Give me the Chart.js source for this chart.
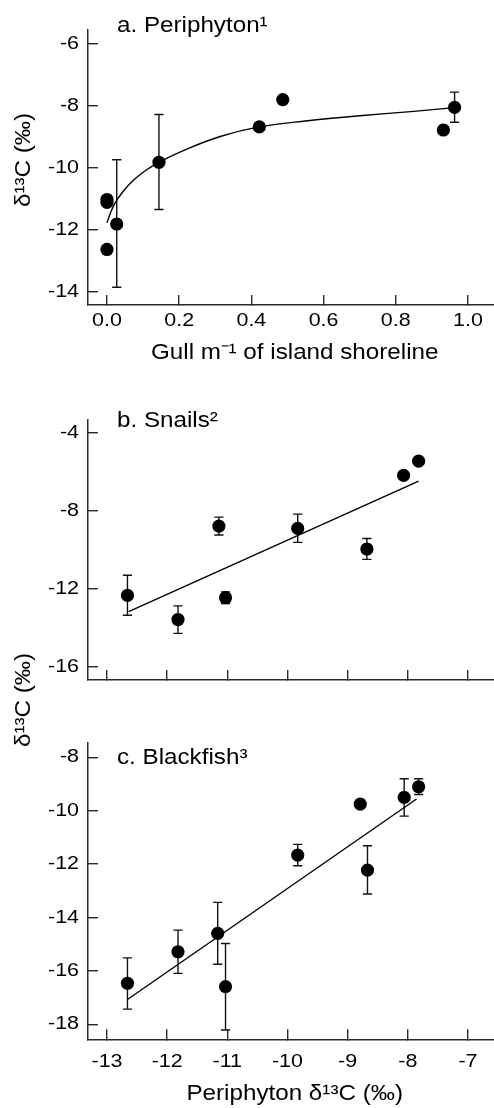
<!DOCTYPE html>
<html><head><meta charset="utf-8">
<script src="https://cdn.jsdelivr.net/npm/chart.js@4/dist/chart.umd.min.js"></script>
<style>
html,body{margin:0;padding:0;background:#fff;overflow:hidden;width:494px;height:1108px;position:relative;}
canvas{position:absolute;left:0;}
</style></head><body>
<canvas id="ca" width="508" height="375" style="top:0px;width:508px;height:375px"></canvas>
<canvas id="cb" width="508" height="320" style="top:390px;width:508px;height:320px"></canvas>
<canvas id="cc" width="508" height="468" style="top:640px;width:508px;height:468px"></canvas>
<script>
// ---------- data ----------
// Panel a: periphyton d13C vs gull density
const gullX      = [0.0, 0.0, 0.0, 0.027, 0.144, 0.422, 0.487, 0.932, 0.963];
const periY      = [-11.03, -11.12, -12.64, -11.82, -9.83, -8.69, -7.81, -8.79, -8.06];
const periErrLo  = [null, null, null, -13.86, -11.35, null, null, null, -8.54];
const periErrHi  = [null, null, null, -9.75, -8.29, null, null, null, -7.57];
const periFitX   = [0.000, 0.010, 0.021, 0.044, 0.076, 0.110, 0.144, 0.226, 0.316, 0.421, 0.550, 0.700, 0.850, 0.962];
const periFitY   = [-11.78, -11.45, -11.17, -10.78, -10.38, -10.07, -9.83, -9.38, -8.99, -8.69, -8.50, -8.33, -8.19, -8.07];

// Panel b: snails d13C vs periphyton d13C
const snailX     = [-12.66, -11.82, -11.14, -11.03, -9.83, -8.68, -8.07, -7.82];
const snailY     = [-12.33, -13.57, -8.77, -12.45, -8.89, -9.95, -6.17, -5.44];
const snailErrLo = [-13.35, -14.28, -9.23, -12.75, -9.61, -10.48, null, null];
const snailErrHi = [-11.30, -12.87, -8.31, -12.15, -8.16, -9.41, null, null];
const snailFitX  = [-12.64, -7.82];
const snailFitY  = [-13.17, -6.46];

// Panel c: blackfish d13C vs periphyton d13C
const fishX      = [-12.66, -11.82, -11.16, -11.03, -9.83, -8.79, -8.67, -8.06, -7.82];
const fishY      = [-16.46, -15.28, -14.59, -16.59, -11.66, -9.75, -12.22, -9.50, -9.10];
const fishErrLo  = [-17.43, -16.09, -15.75, -18.21, -12.06, null, -13.12, -10.20, -9.39];
const fishErrHi  = [-15.51, -14.47, -13.43, -14.97, -11.26, null, -11.31, -8.80, -8.80];
const fishFitX   = [-12.66, -7.855];
const fishFitY   = [-17.07, -9.56];

// ticks
const gullTicks       = [0, 0.2, 0.4, 0.6, 0.8, 1.0];
const gullTickLabels  = ['0.0', '0.2', '0.4', '0.6', '0.8', '1.0'];
const periYTicks      = [-14, -12, -10, -8, -6];
const periXTicks      = [-13, -12, -11, -10, -9, -8, -7];
const snailYTicks     = [-16, -12, -8, -4];
const fishYTicks      = [-18, -16, -14, -12, -10, -8];

// text
const titleA = 'a. Periphyton\u00B9';
const titleB = 'b. Snails\u00B2';
const titleC = 'c. Blackfish\u00B3';
const yTitle = '\u03B4\u00B9\u00B3C (\u2030)';
const xTitleA = 'Gull m\u207B\u00B9 of island shoreline';
const xTitleC = 'Periphyton \u03B4\u00B9\u00B3C (\u2030)';

// ---------- rendering helpers ----------
const FONT = "'Liberation Sans', Arial, Helvetica, sans-serif";
const AX = '#2a2a2a';

// the reference typeface is set wide: stretch glyphs horizontally around their anchor
(function(){
  const orig = CanvasRenderingContext2D.prototype.fillText;
  CanvasRenderingContext2D.prototype.fillText = function(text, x, y, maxWidth){
    const m = /(\d+(?:\.\d+)?)px/.exec(this.font);
    const size = m ? parseFloat(m[1]) : 12;
    const sx = size >= 20 ? 1.1 : 1.16;
    this.save();
    this.translate(x, y);
    this.scale(sx, 1);
    if (maxWidth === undefined) orig.call(this, text, 0, 0);
    else orig.call(this, text, 0, 0, maxWidth / sx);
    this.restore();
  };
})();

const errPlugin = {
  id: 'errBars',
  beforeDatasetsDraw(chart, args, o) {
    const ctx = chart.ctx, xs = chart.scales.x, ys = chart.scales.y;
    ctx.save();
    ctx.strokeStyle = '#111';
    ctx.lineWidth = 1.4;
    for (let i = 0; i < o.x.length; i++) {
      if (o.lo[i] == null) continue;
      const px = xs.getPixelForValue(o.x[i]);
      const p1 = ys.getPixelForValue(o.lo[i]);
      const p2 = ys.getPixelForValue(o.hi[i]);
      ctx.beginPath();
      ctx.moveTo(px, p1); ctx.lineTo(px, p2);
      ctx.moveTo(px - 4.6, p1); ctx.lineTo(px + 4.6, p1);
      ctx.moveTo(px - 4.6, p2); ctx.lineTo(px + 4.6, p2);
      ctx.stroke();
    }
    ctx.restore();
  }
};

const textPlugin = {
  id: 'panelText',
  afterDraw(chart, args, o) {
    const ctx = chart.ctx;
    (o.items || []).forEach(it => {
      ctx.save();
      ctx.font = `${it.size}px ${FONT}`;
      ctx.fillStyle = '#000';
      ctx.textAlign = it.align || 'left';
      ctx.textBaseline = it.baseline || 'alphabetic';
      ctx.translate(it.x, it.y);
      if (it.rot) ctx.rotate(it.rot);
      ctx.fillText(it.text, 0, 0);
      ctx.restore();
    });
  }
};

function axis(pos, min, max, tickVals, labelFn, o) {
  return {
    type: 'linear', position: pos, min: min, max: max,
    afterBuildTicks: s => { s.ticks = tickVals.map(v => ({ value: v })); },
    afterFit: s => { if (pos === 'left') s.width = o.size; else s.height = o.size; },
    grid: { drawOnChartArea: false, drawTicks: true, tickLength: -10, color: AX, tickColor: AX, tickWidth: 1.4, lineWidth: 1.4 },
    border: { display: true, color: AX, width: 1.5 },
    ticks: {
      display: o.showLabels !== false, padding: o.pad,
      font: { family: FONT, size: 18.5 }, color: '#000',
      autoSkip: false, maxRotation: 0, minRotation: 0,
      callback: (v, i) => labelFn(v, i)
    },
    title: o.title ? { display: true, text: o.title, color: '#000', font: { family: FONT, size: 22 }, padding: { top: 0, bottom: o.titlePad } } : { display: false }
  };
}

function pts(xs, ys) { return xs.map((x, i) => ({ x: x, y: ys[i] })); }

function panel(id, cfg) {
  return new Chart(document.getElementById(id), {
    type: 'scatter',
    data: { datasets: [
      { data: pts(cfg.x, cfg.y), backgroundColor: '#000', borderWidth: 0, pointRadius: 6.6, pointHoverRadius: 6.6, order: 0 },
      { type: 'line', data: pts(cfg.fitX, cfg.fitY), borderColor: '#000', borderWidth: 1.4, pointRadius: 0, fill: false,
        cubicInterpolationMode: 'monotone', order: 1 }
    ]},
    options: {
      responsive: false, animation: false, events: [],
      layout: { padding: { top: cfg.top, left: 0, right: 0, bottom: 0 } },
      plugins: {
        legend: { display: false }, tooltip: { enabled: false }, title: { display: false },
        errBars: { x: cfg.x, lo: cfg.lo, hi: cfg.hi },
        panelText: { items: cfg.texts }
      },
      scales: { x: cfg.xAxis, y: cfg.yAxis }
    },
    plugins: [errPlugin, textPlugin]
  });
}

const yLab = v => String(v);

// Panel a
panel('ca', {
  x: gullX, y: periY, lo: periErrLo, hi: periErrHi, fitX: periFitX, fitY: periFitY, top: 8,
  xAxis: axis('bottom', -0.0526, 1.0927, gullTicks, (v, i) => gullTickLabels[i], { size: 70, pad: 15, title: xTitleA, titlePad: 9 }),
  yAxis: axis('left', -14.43, -5.57, periYTicks, yLab, { size: 88, pad: 19 }),
  texts: [
    { text: titleA, x: 117, y: 32.3, size: 22 },
    { text: yTitle, x: 23.8, y: 160, size: 22, rot: -Math.PI / 2, align: 'center', baseline: 'middle' }
  ]
});

// Panel b
panel('cb', {
  x: snailX, y: snailY, lo: snailErrLo, hi: snailErrHi, fitX: snailFitX, fitY: snailFitY, top: 11.7,
  xAxis: axis('bottom', -13.316, -6.444, periXTicks, yLab, { size: 11, pad: 0, showLabels: false }),
  yAxis: axis('left', -16.67, -3.33, snailYTicks, yLab, { size: 88, pad: 19 }),
  texts: [ { text: titleB, x: 117, y: 37.3, size: 22 } ]
});

// Panel c
panel('cc', {
  x: fishX, y: fishY, lo: fishErrLo, hi: fishErrHi, fitX: fishFitX, fitY: fishFitY, top: 102.7,
  xAxis: axis('bottom', -13.316, -6.444, periXTicks, yLab, { size: 68.7, pad: 21.3, title: xTitleC, titlePad: 0.6 }),
  yAxis: axis('left', -18.56, -7.45, fishYTicks, yLab, { size: 88, pad: 19 }),
  texts: [
    { text: titleC, x: 117, y: 124.3, size: 22 },
    { text: yTitle, x: 23.8, y: 60, size: 22, rot: -Math.PI / 2, align: 'center', baseline: 'middle' }
  ]
});
</script>
</body></html>
